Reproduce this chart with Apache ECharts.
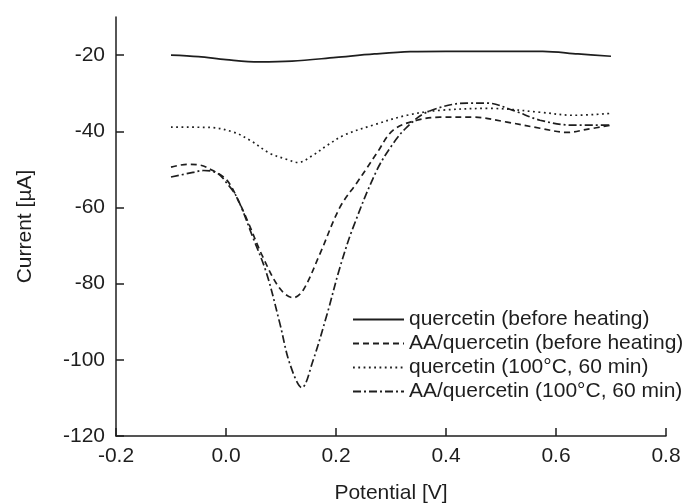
<!DOCTYPE html>
<html><head><meta charset="utf-8">
<script src="https://cdn.jsdelivr.net/npm/echarts@6/dist/echarts.min.js"></script>
<style>html,body{margin:0;padding:0;background:#fff}#c{width:694px;height:504px}</style>
</head><body><div id="c"></div>
<script>
var seriesNames = ['quercetin (before heating)', 'AA/quercetin (before heating)', 'quercetin (100\u00B0C, 60 min)', 'AA/quercetin (100\u00B0C, 60 min)'];

var q0X = [-0.1, -0.05, 0.0, 0.06, 0.12, 0.2, 0.27, 0.335, 0.4, 0.5, 0.576, 0.64, 0.7];
var q0Y = [-20.0, -20.4, -21.2, -21.8, -21.6, -20.6, -19.7, -19.1, -19.0, -19.0, -19.0, -19.7, -20.3];

var aq0X = [-0.1, -0.071, -0.047, -0.024, 0.002, 0.025, 0.04, 0.067, 0.098, 0.122, 0.14, 0.171, 0.207, 0.238, 0.256, 0.274, 0.304, 0.347, 0.389, 0.449, 0.511, 0.571, 0.62, 0.656, 0.7];
var aq0Y = [-49.4, -48.7, -48.9, -50.3, -52.9, -59.0, -63.8, -73.0, -81.3, -83.7, -81.8, -72.1, -60.0, -53.5, -49.7, -45.8, -39.7, -37.1, -36.3, -36.3, -37.6, -39.2, -40.3, -39.5, -38.4];

var q100X = [-0.1, -0.029, 0.013, 0.044, 0.08, 0.111, 0.131, 0.158, 0.184, 0.215, 0.267, 0.329, 0.389, 0.48, 0.571, 0.631, 0.7];
var q100Y = [-38.9, -39.0, -40.2, -42.4, -45.8, -47.4, -48.2, -46.3, -43.7, -41.0, -38.4, -35.8, -34.5, -34.0, -35.0, -35.8, -35.3];

var aq100X = [-0.1, -0.06, -0.041, -0.016, 0.002, 0.02, 0.049, 0.074, 0.098, 0.116, 0.138, 0.158, 0.184, 0.207, 0.231, 0.274, 0.304, 0.329, 0.365, 0.438, 0.475, 0.522, 0.571, 0.631, 0.7];
var aq100Y = [-52.0, -50.8, -50.3, -51.0, -53.7, -57.4, -67.9, -77.4, -90.5, -101.0, -107.3, -100.3, -87.9, -75.8, -65.3, -50.3, -43.2, -38.9, -35.0, -32.6, -32.6, -34.5, -37.1, -38.4, -38.4];

var yTickValues = [-120, -100, -80, -60, -40, -20];

function pairs(xs, ys) { return xs.map(function (x, i) { return [x, ys[i]]; }); }

var ink = '#1e1e1e';
var font = 'Liberation Sans, Arial, sans-serif';
var fs = 21;
var lineTypes = ['solid', [6, 4], [1.8, 3.5], [8, 3, 2, 3]];
var datas = [pairs(q0X, q0Y), pairs(aq0X, aq0Y), pairs(q100X, q100Y), pairs(aq100X, aq100Y)];

var chart = echarts.init(document.getElementById('c'), null, { renderer: 'canvas' });
chart.setOption({
  backgroundColor: '#fff',
  animation: false,
  grid: { left: 116, right: 28, top: 17, bottom: 68, containLabel: false, outerBoundsMode: 'none' },
  legend: {
    orient: 'vertical', left: 352, top: 309, padding: 0,
    itemWidth: 51, itemHeight: 14, itemGap: 3,
    itemStyle: { opacity: 0 },
    textStyle: { fontFamily: font, fontSize: fs, color: ink },
    data: seriesNames.map(function (n) { return { name: n }; })
  },
  xAxis: {
    type: 'value', min: -0.2, max: 0.8, interval: 0.2,
    name: 'Potential [V]', nameLocation: 'middle', nameGap: 47,
    nameTextStyle: { fontFamily: font, fontSize: fs, color: ink },
    axisLine: { show: true, onZero: false, lineStyle: { color: ink, width: 1.5 } },
    axisTick: { show: true, inside: true, length: 8, lineStyle: { color: ink, width: 1.5 } },
    axisLabel: { fontFamily: font, fontSize: fs, color: ink, margin: 10,
      formatter: function (v) { return v.toFixed(1); } },
    splitLine: { show: false }
  },
  yAxis: {
    type: 'value', min: -120, max: -10,
    name: 'Current [\u00B5A]', nameLocation: 'middle', nameGap: 80,
    nameTextStyle: { fontFamily: font, fontSize: fs, color: ink },
    axisLine: { show: true, onZero: false, lineStyle: { color: ink, width: 1.5 } },
    axisTick: { show: true, inside: true, length: 8, customValues: yTickValues, lineStyle: { color: ink, width: 1.5 } },
    axisLabel: { fontFamily: font, fontSize: fs, color: ink, margin: 11, customValues: yTickValues },
    splitLine: { show: false }
  },
  series: seriesNames.map(function (n, i) {
    return {
      name: n, type: 'line', data: datas[i], smooth: 0.35, symbol: 'none',
      lineStyle: { color: ink, width: 1.7, type: lineTypes[i] },
      itemStyle: { color: ink }
    };
  })
});
</script></body></html>
